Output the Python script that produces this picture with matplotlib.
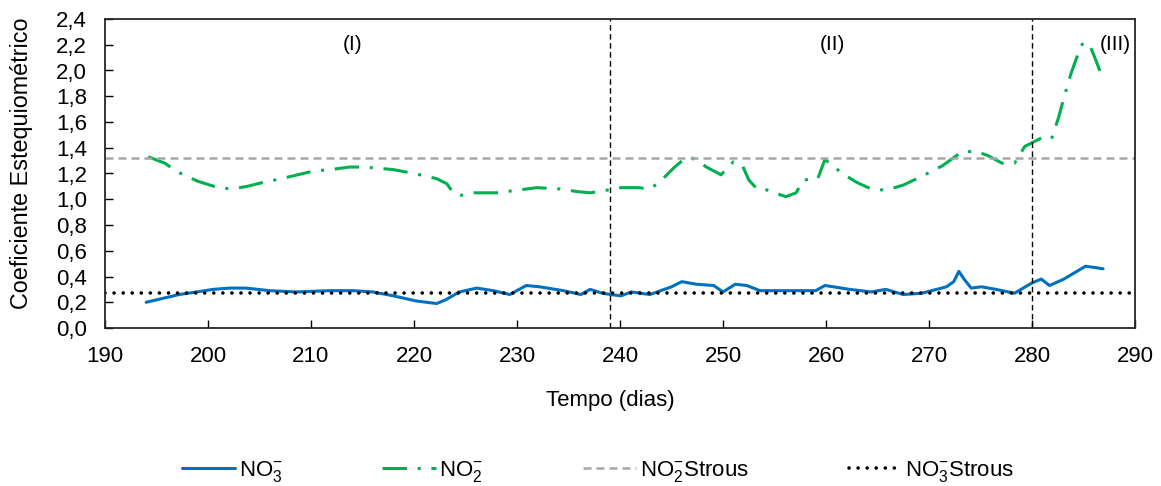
import matplotlib
matplotlib.use('Agg')
import matplotlib.pyplot as plt

plt.rcParams['font.family'] = ['Liberation Sans', 'DejaVu Sans']
plt.rcParams['mathtext.fontset'] = 'custom'
plt.rcParams['mathtext.rm'] = 'Liberation Sans'
plt.rcParams['mathtext.it'] = 'Liberation Sans'

# NO2- coefficient (dash-dot green)
no2_dias = [194.2, 195.8, 197.1, 199.0, 201.0, 202.3, 203.8, 205.3, 207.1, 208.7,
            210.3, 211.9, 213.7, 215.1, 216.7, 218.0, 220.0, 222.2, 223.2, 223.8,
            224.5, 225.8, 228.0, 230.0, 231.9, 234.2, 235.8, 237.1, 238.7, 239.8,
            241.8, 242.9, 243.8, 245.3, 246.2, 247.0, 248.4, 249.8, 251.0, 251.9,
            252.5, 253.3, 254.0, 255.0, 256.1, 257.1, 257.8, 259.2, 259.9, 260.6,
            261.8, 263.0, 264.4, 265.8, 267.5, 269.6, 271.3, 273.2, 274.6, 275.7,
            277.1, 278.3, 279.3, 281.0, 281.9, 282.6, 283.1, 283.8, 284.7, 285.0,
            285.7, 286.2, 286.9]
no2_coef = [1.33, 1.28, 1.21, 1.14, 1.09, 1.08, 1.10, 1.13, 1.16, 1.19,
            1.22, 1.23, 1.25, 1.25, 1.24, 1.23, 1.20, 1.16, 1.12, 1.05,
            1.03, 1.05, 1.05, 1.07, 1.09, 1.08, 1.06, 1.05, 1.07, 1.09,
            1.09, 1.08, 1.13, 1.25, 1.31, 1.32, 1.25, 1.19, 1.29, 1.26,
            1.15, 1.08, 1.08, 1.05, 1.02, 1.05, 1.15, 1.16, 1.31, 1.26,
            1.19, 1.13, 1.08, 1.07, 1.11, 1.19, 1.26, 1.37, 1.37, 1.34,
            1.28, 1.28, 1.41, 1.48, 1.47, 1.64, 1.79, 1.98, 2.18, 2.22,
            2.18, 2.08, 1.93]

# NO3- coefficient (solid blue)
no3_dias = [194.0, 195.6, 197.2, 198.9, 200.5, 202.1, 203.7, 206.0, 208.6, 211.8,
            214.1, 216.0, 218.0, 220.2, 222.2, 223.1, 224.4, 226.1, 227.7, 229.3,
            230.9, 232.2, 234.5, 236.2, 237.1, 238.3, 239.1, 240.1, 241.1, 242.9,
            245.0, 246.0, 247.4, 249.1, 250.0, 251.2, 252.3, 253.6, 257.1, 259.0,
            259.9, 262.3, 264.4, 265.8, 267.5, 269.3, 271.7, 272.4, 272.9, 273.4,
            274.1, 275.1, 276.5, 278.3, 280.0, 280.9, 281.7, 283.1, 285.2, 286.9]
no3_coef = [0.20, 0.23, 0.26, 0.28, 0.30, 0.31, 0.31, 0.29, 0.28, 0.29,
            0.29, 0.28, 0.25, 0.21, 0.19, 0.22, 0.28, 0.31, 0.29, 0.26,
            0.33, 0.32, 0.29, 0.26, 0.30, 0.27, 0.26, 0.25, 0.28, 0.26,
            0.32, 0.36, 0.34, 0.33, 0.28, 0.34, 0.33, 0.29, 0.29, 0.29,
            0.33, 0.30, 0.28, 0.30, 0.26, 0.27, 0.32, 0.36, 0.44, 0.38,
            0.31, 0.32, 0.30, 0.27, 0.35, 0.38, 0.33, 0.38, 0.48, 0.46]

no2_strous = 1.32
no3_strous = 0.27

fases = ['(I)', '(II)', '(III)']
fases_x = [214.0, 260.6, 288.1]
limites = [239, 280]

xticks = [190, 200, 210, 220, 230, 240, 250, 260, 270, 280, 290]
yticks = [0.0, 0.2, 0.4, 0.6, 0.8, 1.0, 1.2, 1.4, 1.6, 1.8, 2.0, 2.2, 2.4]

fs = 16

fig = plt.figure(figsize=(11.61, 4.86), dpi=100)
ax = fig.add_axes([105 / 1161, 1 - 328 / 486, (1135 - 105) / 1161, (328 - 19) / 486])

l1, = ax.plot(no3_dias, no3_coef, color='#0070C0', lw=2.2, solid_joinstyle='round',
              solid_capstyle='round', label=r'NO$_3^{-}$')
l2, = ax.plot(no2_dias, no2_coef, color='#00B050', lw=2.2,
              linestyle=(0, (8, 3.5, 1, 3.5)), label=r'NO$_2^{-}$')
l3 = ax.axhline(no2_strous, color='#A6A6A6', lw=1.8, linestyle=(0, (3.2, 2.0)),
                label=r'NO$_2^{-}$Strous')
l4 = ax.axhline(no3_strous, color='black', lw=2.6, linestyle=(0, (0.01, 2.5)),
                dash_capstyle='round', label=r'NO$_3^{-}$Strous')

for xv in limites:
    ax.axvline(xv, color='black', lw=1.0, linestyle=(0, (4, 2.5)))

for txt, xv in zip(fases, fases_x):
    ax.text(xv, 2.2, txt, ha='center', va='center', fontsize=fs - 1)

ax.set_xlim(190, 290)
ax.set_ylim(0, 2.4)
ax.set_xticks(xticks)
ax.set_xticklabels([str(v) for v in xticks])
ax.set_yticks(yticks)
ax.set_yticklabels([('%.1f' % v).replace('.', ',') for v in yticks])
ax.tick_params(direction='in', length=6, width=1, labelsize=fs, pad=13)
for s in ax.spines.values():
    s.set_linewidth(1.3)
    s.set_color('#262626')

fig.text(22 / 1161, 1 - 163 / 486, 'Coeficiente Estequiométrico', rotation=90,
         ha='center', va='center', fontsize=fs + 0.8)
fig.text(610 / 1161, 1 - 400 / 486, 'Tempo (dias)', ha='center', va='center', fontsize=fs)

fig.legend(handles=[l1, l2, l3, l4], loc='center', bbox_to_anchor=(598 / 1161, 1 - 471 / 486),
           ncol=4, frameon=False, fontsize=fs, handlelength=2.4, handletextpad=0.15,
           columnspacing=4.5)

fig.savefig('out.png', dpi=100)
